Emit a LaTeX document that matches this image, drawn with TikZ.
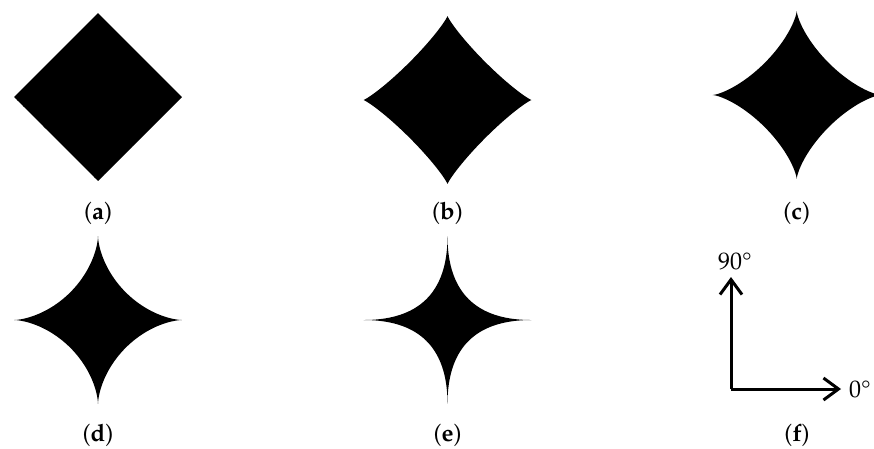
\documentclass[tikz,border=0pt]{standalone}
\usepackage[T1]{fontenc}
\usepackage{mathpazo}
\usepackage{textcomp}
\usepackage{tikz}
\usetikzlibrary{arrows.meta}

\begin{document}
\begin{tikzpicture}[
  x=1pt, y=-1pt,
  blob/.style={fill=black},
  sublabel/.style={font=\fontsize{24}{28}\selectfont, anchor=base},
  axis/.style={line width=3pt, -{Straight Barb[length=15pt, width=22pt]}}]
  \useasboundingbox (0,0) rectangle (874,448);
  % superellipse shapes, exponent grows from (a) to (e)
  \foreach \n/\cx/\cy/\q/\ly in {a/98/97/2/219, b/447.5/100/2.3/219, c/796.7/95/2.78/219,
                                 d/98/320/3.2/441, e/447.5/320/4/441} {
    \coordinate (\n) at (\cx,\cy);
    \fill[blob, shift={(\n)}] plot[domain=0.25:360.25, samples=361]
      ({84*cos(\x)*abs(cos(\x))^(\q-1)}, {84*sin(\x)*abs(sin(\x))^(\q-1)}) -- cycle;
    \node[sublabel] (lab\n) at (\cx,\ly) {(\textbf{\n})};
  }
  % directions
  \coordinate (orig) at (731,389);
  \coordinate (xend) at (841,389);
  \coordinate (yend) at (731,277);
  \draw[axis] (orig) -- (xend);
  \draw[axis] (orig) -- (yend);
  \node[sublabel] (ylab) at (735,269) {90\textdegree};
  \node[sublabel, anchor=base west, inner sep=0pt] (xlab) at (849,397) {0\textdegree};
  \node[sublabel] (labf) at (797,441) {(\textbf{f})};
\end{tikzpicture}
\end{document}
